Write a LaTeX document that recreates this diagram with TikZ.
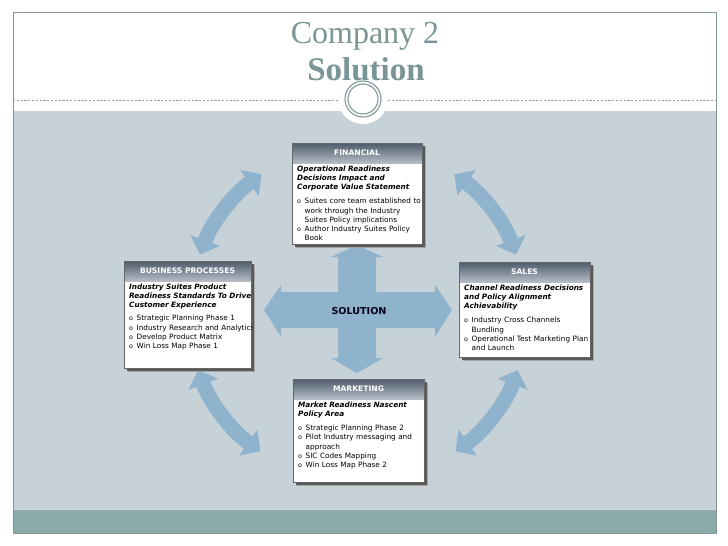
\documentclass[tikz,border=0pt]{standalone}
\usepackage{fontspec}
\setmainfont{Liberation Serif}
\newfontfamily\dv{DejaVu Sans}[ItalicFont={DejaVu Sans Oblique},BoldFont={DejaVu Sans Bold},BoldItalicFont={DejaVu Sans Bold Oblique}]
\usetikzlibrary{arrows.meta,calc}
\definecolor{framec}{HTML}{7F9999}
\definecolor{titlec}{HTML}{7A9595}
\definecolor{panelc}{HTML}{C6D1D8}
\definecolor{bandc}{HTML}{8AABAA}
\definecolor{arrowc}{HTML}{8FB3CC}
\definecolor{hdtop}{HTML}{4E5B6B}
\definecolor{hdbot}{HTML}{B4BCC5}
\definecolor{dashc}{HTML}{8E9C9E}
\newcommand{\bl}{\makebox[7.5pt][l]{\fontsize{6.3}{6}\selectfont o}}
\newcommand{\ind}{\hspace*{7.5pt}}
\newcommand{\infobox}[7]{%
  \fill[black!35] (#2+4,#3+4) rectangle (#4+4,#5+4);
  \fill[black!65] (#2+2.5,#3+2.5) rectangle (#4+2.5,#5+2.5);
  \fill[white] (#2,#3) rectangle (#4,#5);
  \shade[top color=hdtop,bottom color=hdbot] (#2,#3) rectangle (#4,#3+20);
  \draw[boxborder] (#2,#3) rectangle (#4,#5);
  \node[hdr] (#1-h) at ({(#2+#4)/2},#3+10) {#6};
  \begin{scope}
    \clip (#2,#3) rectangle (#4,#5);
    \node[bodytext] (#1-b) at (#2+5,#3+22.5) {#7};
  \end{scope}
}
\tikzset{
  boxborder/.style={draw=black!60,line width=0.6pt},
  hdr/.style={text=white,font=\dv\bfseries\fontsize{7.6}{8}\selectfont,inner sep=0pt},
  bodytext/.style={anchor=north west,inner sep=0pt,text width=200pt,align=left,
    font=\dv\fontsize{7.3}{9.2}\selectfont},
  curvy/.style={arrowc,line width=15pt,
    {Triangle[width=31pt,length=15pt]}-{Triangle[width=31pt,length=15pt]}},
}
\begin{document}
\begin{tikzpicture}[x=1pt,y=-1pt]
\useasboundingbox (0,0) rectangle (728,546);
\fill[white] (0,0) rectangle (728,546);
% panel and band
\fill[panelc] (13,111) rectangle (716,509);
\fill[bandc] (13,509) rectangle (716,533);
\draw[white!60!bandc,line width=1pt] (13,509.5) -- (716,509.5);
\draw[framec,line width=1pt] (13,12) rectangle (716,533);
% dashed separator and ring
\draw[dashc,line width=0.6pt,dash pattern=on 2.2pt off 1.6pt] (13,100) -- (338,100);
\draw[dashc,line width=0.6pt,dash pattern=on 2.2pt off 1.6pt] (388,100) -- (716,100);
\fill[white] (363,99) circle (25);
\draw[framec,line width=1.1pt] (363,99) circle (18);
\draw[framec,line width=1.1pt] (363,99) circle (15);
% title
\node[text=titlec,font=\fontsize{32}{32}\selectfont,anchor=base,inner sep=0pt] (t1) at (365,43) {Company 2};
\node[text=titlec,font=\bfseries\fontsize{33}{33}\selectfont,anchor=base,inner sep=0pt] (t2) at (366,80) {Solution};
% curved arrows
\coordinate (O) at (358,312);
\draw[curvy] (O) ++(-160:168) arc[start angle=-160,end angle=-125,radius=168];
\draw[curvy] (O) ++(-20:168) arc[start angle=-20,end angle=-55,radius=168];
\draw[curvy] (O) ++(-200:170) arc[start angle=-200,end angle=-235,radius=170];
\draw[curvy] (O) ++(20:170) arc[start angle=20,end angle=55,radius=170];
% central cross
\fill[arrowc] (264,310) -- (281,285) -- (281,292) -- (338,292) -- (338,257) -- (331,257)
  -- (357,245) -- (383,257) -- (376,257) -- (376,292) -- (435,292) -- (435,285)
  -- (452,310) -- (435,337) -- (435,328) -- (376,328) -- (376,358) -- (383,358)
  -- (357,373) -- (331,358) -- (338,358) -- (338,328) -- (281,328) -- (281,337) -- cycle;
\node[font=\dv\bfseries\fontsize{9.6}{10}\selectfont,text=black!90!blue] (sol) at (359,311) {SOLUTION};
% boxes
\infobox{fin}{292}{143}{422}{244}{FINANCIAL}{%
{\bfseries\itshape Operational Readiness\\ Decisions Impact and\\ Corporate Value Statement}\\[5pt]
\bl Suites core team established to\\ \ind work through the Industry\\ \ind Suites Policy implications\\
\bl Author Industry Suites Policy\\ \ind Book}
\infobox{bus}{124}{261}{251}{368}{BUSINESS PROCESSES}{%
{\bfseries\itshape Industry Suites Product\\ Readiness Standards To Drive\\ Customer Experience}\\[4pt]
\bl Strategic Planning Phase 1\\ \bl Industry Research and Analytics\\ \bl Develop Product Matrix\\ \bl Win Loss Map Phase 1}
\infobox{sal}{459}{262}{590}{357}{SALES}{%
{\bfseries\itshape Channel Readiness Decisions\\ and Policy Alignment\\ Achievability}\\[5pt]
\bl Industry Cross Channels\\ \ind Bundling\\ \bl Operational Test Marketing Plan\\ \ind and Launch}
\infobox{mkt}{293}{379}{424}{482}{MARKETING}{%
{\bfseries\itshape Market Readiness Nascent\\ Policy Area}\\[5pt]
\bl Strategic Planning Phase 2\\ \bl Pilot Industry messaging and\\ \ind approach\\ \bl SIC Codes Mapping\\ \bl Win Loss Map Phase 2}
\end{tikzpicture}
\end{document}
